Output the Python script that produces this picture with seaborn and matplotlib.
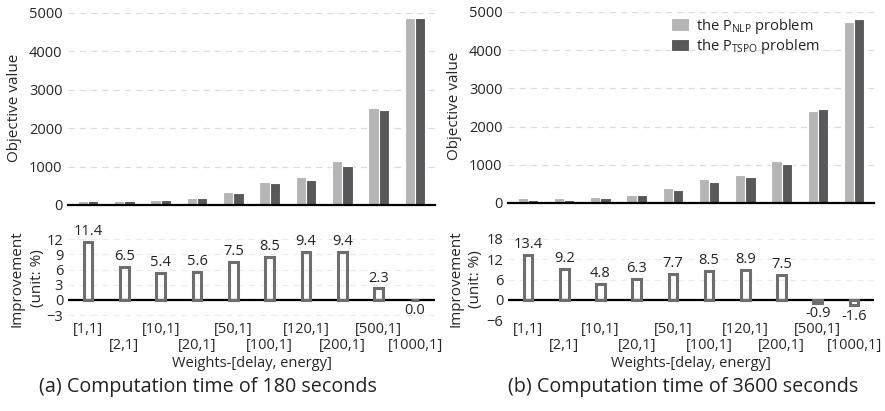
import matplotlib
matplotlib.use("Agg")
import matplotlib.pyplot as plt
import numpy as np
import pandas as pd
import seaborn as sns

# ---------------- data ----------------
weights = ["[1,1]", "[2,1]", "[10,1]", "[20,1]", "[50,1]",
           "[100,1]", "[120,1]", "[200,1]", "[500,1]", "[1000,1]"]
nlp_180 = [104, 100, 130, 180, 340, 600, 730, 1150, 2520, 4860]
tspo_180 = [100, 100, 130, 180, 313, 575, 652, 1026, 2478, 4860]
imp_180 = [11.4, 6.5, 5.4, 5.6, 7.5, 8.5, 9.4, 9.4, 2.3, 0.0]
nlp_3600 = [122, 122, 148, 200, 384, 620, 724, 1091, 2417, 4729]
tspo_3600 = [70, 70, 122, 200, 332, 541, 672, 1012, 2469, 4808]
imp_3600 = [13.4, 9.2, 4.8, 6.3, 7.7, 8.5, 8.9, 7.5, -0.9, -1.6]
series = ["the P$_{\\mathregular{NLP}}$ problem", "the P$_{\\mathregular{TSPO}}$ problem"]
captions = ["(a) Computation time of 180 seconds", "(b) Computation time of 3600 seconds"]
imp_ticks = [[-3, 0, 3, 6, 9, 12], [-6, 0, 6, 12, 18]]

# ---------------- style ----------------
sns.set_style("white")
plt.rcParams["font.family"] = ["Open Sans", "DejaVu Sans"]
plt.rcParams["mathtext.fontset"] = "custom"
plt.rcParams["mathtext.rm"] = "Open Sans"
plt.rcParams["text.color"] = "#222222"

LIGHT = "#b5b5b5"
DARK = "#58585a"
EDGE = "#6e6e6e"
GRID = "#dcdcdc"
FS = 10.5

W, H = 885, 411
fig = plt.figure(figsize=(W / 100, H / 100), dpi=100)


def ax_at(x0, y0, x1, y1):
    return fig.add_axes([x0 / W, 1 - y1 / H, (x1 - x0) / W, (y1 - y0) / H])


panels = [
    dict(nlp=nlp_180, tspo=tspo_180, imp=imp_180, x0=68, x1=435,
         top=(13, 205), bot=(231.4, 320.3), ylim=(-4, 13.5), cap_x=208,
         ylab_top=(-0.125, 0.508), ylab_bot=(-0.063, 0.47), legend=False),
    dict(nlp=nlp_3600, tspo=tspo_3600, imp=imp_3600, x0=508, x1=874,
         top=(12, 203), bot=(232.2, 320.3), ylim=(-6, 20), cap_x=683,
         ylab_top=(-0.126, 0.509), ylab_bot=(-0.068, 0.47), legend=True),
]

for k, p in enumerate(panels):
    # ----- top: objective values -----
    axt = ax_at(p["x0"], p["top"][0], p["x1"], p["top"][1])
    df = pd.DataFrame({
        "w": weights * 2,
        "val": list(p["nlp"]) + list(p["tspo"]),
        "prob": [series[0]] * len(weights) + [series[1]] * len(weights),
    })
    sns.barplot(data=df, x="w", y="val", hue="prob", order=weights,
                hue_order=series, palette=[LIGHT, DARK], width=0.57,
                edgecolor="white", linewidth=0.8, ax=axt, zorder=3)
    axt.set_xlim(-0.55, 9.55)
    axt.set_ylim(0, 5000)
    axt.set_yticks([0, 1000, 2000, 3000, 4000, 5000])
    axt.yaxis.grid(True, linestyle=(0, (5, 4)), color=GRID, linewidth=0.9, zorder=0)
    axt.set_axisbelow(True)
    axt.set_xticks([])
    axt.set_xlabel("")
    axt.set_ylabel("Objective value", fontsize=FS + 0.5)
    axt.yaxis.set_label_coords(*p["ylab_top"])
    axt.tick_params(axis="y", length=0, labelsize=FS, pad=4)
    for s in ["top", "right", "left"]:
        axt.spines[s].set_visible(False)
    axt.spines["bottom"].set_color("black")
    axt.spines["bottom"].set_linewidth(1.6)
    axt.spines["bottom"].set_zorder(10)
    if p["legend"]:
        axt.legend(loc="upper left", bbox_to_anchor=(0.41, 1.045), frameon=False,
                   fontsize=FS, handlelength=1.2, handleheight=0.9,
                   handletextpad=0.5, labelspacing=0.08)
    else:
        lg = axt.get_legend()
        if lg is not None:
            lg.remove()

    # ----- bottom: improvement -----
    axb = ax_at(p["x0"], p["bot"][0], p["x1"], p["bot"][1])
    dfi = pd.DataFrame({"w": weights, "imp": p["imp"]})
    sns.barplot(data=dfi, x="w", y="imp", order=weights, color=EDGE,
                fill=False, width=0.24, linewidth=2.2, ax=axb, zorder=3)
    axb.set_xlim(-0.55, 9.55)
    axb.set_ylim(*p["ylim"])
    axb.set_yticks(imp_ticks[k])
    axb.yaxis.grid(True, linestyle=(0, (5, 4)), color="#ececec", linewidth=0.9, zorder=0)
    axb.set_axisbelow(True)
    axb.axhline(0, color="black", linewidth=1.6, zorder=2)
    for s in ["top", "right", "left", "bottom"]:
        axb.spines[s].set_visible(False)
    # staggered category labels: even ones as major ticks, odd ones as minor ticks
    axb.set_xticks(range(0, len(weights), 2))
    axb.set_xticklabels(weights[0::2], fontsize=FS)
    axb.set_xticks(range(1, len(weights), 2), minor=True)
    axb.set_xticklabels(weights[1::2], minor=True, fontsize=FS)
    axb.tick_params(axis="both", which="both", length=0, labelsize=FS)
    axb.tick_params(axis="x", which="major", pad=1.0)
    axb.tick_params(axis="x", which="minor", pad=13.0)
    axb.set_xlabel("Weights-[delay, energy]", fontsize=FS, labelpad=2)
    axb.set_ylabel("Improvement\n(unit: %)", fontsize=FS + 0.5, linespacing=1.45)
    axb.yaxis.set_label_coords(*p["ylab_bot"])
    for i, v in enumerate(p["imp"]):
        if v > 0:
            axb.annotate(f"{v:.1f}", (i, v), xytext=(0, 2), textcoords="offset points",
                         ha="center", va="bottom", fontsize=FS)
        else:
            axb.annotate(f"{v:.1f}", (i, min(v, 0)), xytext=(0, -2.5), textcoords="offset points",
                         ha="center", va="top", fontsize=FS)

    fig.text(p["cap_x"] / W, 1 - 387 / H, captions[k], ha="center", va="center",
             fontsize=14.2)

fig.savefig("out.png", dpi=100)
